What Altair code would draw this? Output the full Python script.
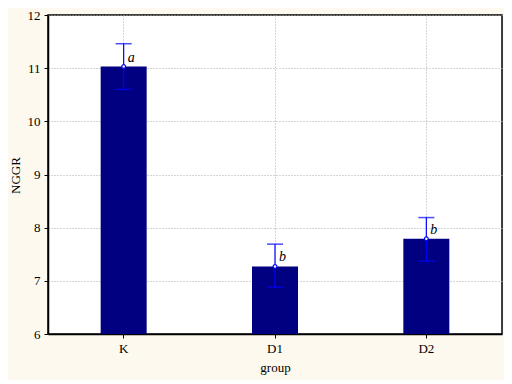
import altair as alt
import pandas as pd

groups = ["K", "D1", "D2"]
means = [11.03, 7.27, 7.79]
err_low = [10.60, 6.88, 7.37]
err_high = [11.46, 7.69, 8.19]
letters = ["a", "b", "b"]
y_ticks = [6, 6.5, 7, 7.5, 8, 8.5, 9, 9.5, 10, 10.5, 11, 11.5, 12]
y_base = 6

df = pd.DataFrame({"group": groups, "mean": means, "lo": err_low, "hi": err_high,
                   "letter": letters, "base": [y_base] * len(groups)})

FONT = "Liberation Serif"
x = alt.X("group:N", sort=groups, title="group",
          scale=alt.Scale(paddingInner=0, paddingOuter=0),
          axis=alt.Axis(labelAngle=0, grid=True, gridDash=[1, 2], gridColor="#aaaaaa",
                        tickSize=4, tickColor="black", domainColor="black", domainWidth=1.5,
                        labelPadding=4, titlePadding=6))
yscale = alt.Scale(domain=[6, 12], nice=False, zero=False)
yaxis = alt.Axis(values=y_ticks, grid=True, gridDash=[1, 2], gridColor="#aaaaaa",
                 format="d",
                 labelExpr="datum.value % 1 == 0 ? datum.label : ''",
                 tickSize=4, tickColor="black", domainColor="black", domainWidth=1.5,
                 labelPadding=4, titlePadding=2, titleX=-26, titleY=160)

base = alt.Chart(df)
bars = base.mark_bar(color="#000080", size=46).encode(
    x=x, y=alt.Y("mean:Q", title="NGGR", scale=yscale, axis=yaxis), y2="base:Q")
rule = base.mark_rule(color="#0000FF", strokeWidth=1.2).encode(
    x=alt.X("group:N", sort=groups), y=alt.Y("lo:Q", scale=yscale), y2="hi:Q")
cap_lo = base.mark_tick(color="#0000FF", size=16, thickness=1.5).encode(
    x=alt.X("group:N", sort=groups), y=alt.Y("lo:Q", scale=yscale))
cap_hi = base.mark_tick(color="#0000FF", size=16, thickness=1.5).encode(
    x=alt.X("group:N", sort=groups), y=alt.Y("hi:Q", scale=yscale))
pts = base.mark_point(shape="circle", size=14, fill="white", color="#0000FF",
                      filled=False, strokeWidth=1.2, opacity=1).encode(
    x=alt.X("group:N", sort=groups), y=alt.Y("mean:Q", scale=yscale))
txt = base.mark_text(align="left", baseline="bottom", dx=4, dy=-2, fontStyle="italic",
                     font=FONT, fontSize=14, color="black").encode(
    x=alt.X("group:N", sort=groups), y=alt.Y("mean:Q", scale=yscale), text="letter:N")

chart = alt.layer(bars, rule, cap_lo, cap_hi, pts, txt).properties(
    width=454, height=319,
    autosize=alt.AutoSizeParams(type="none"),
    padding={"left": 40, "top": 7, "right": 2, "bottom": 46},
    background="#FEF9EE",
).configure_view(stroke="black", strokeWidth=1.5, fill="white").configure_axis(
    labelFont=FONT, titleFont=FONT, labelFontSize=13, titleFontSize=13,
    titleFontWeight="normal", labelColor="black", titleColor="black"
)

chart.save("out.html", embed_options={"renderer": "svg", "actions": False})
